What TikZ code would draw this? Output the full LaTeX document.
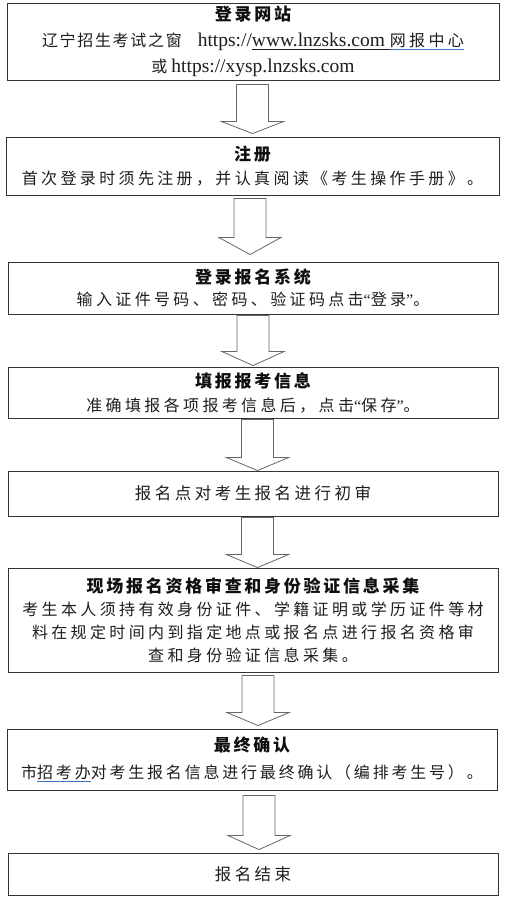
\documentclass[tikz,border=0pt]{standalone}
\usepackage{fontspec}
\setmainfont{Liberation Serif}
\newfontfamily\cjk[LetterSpace=21]{Noto Sans CJK SC}
\newfontfamily\cjkb[LetterSpace=16]{Noto Sans CJK SC}
\newfontfamily\cjks[LetterSpace=17.5]{Noto Sans CJK SC}
\newfontfamily\cjkt[LetterSpace=10.5]{Noto Sans CJK SC}
\usetikzlibrary{calc}
\definecolor{txt}{HTML}{1E1E1E}
\definecolor{ttl}{HTML}{0F0F0F}
\definecolor{ulblue}{HTML}{4472C4}
\definecolor{boxline}{HTML}{333333}
\definecolor{arrline}{HTML}{666666}
\newcommand\myul[2]{\setbox0\hbox{#2}\rlap{\color{#1}\rule[-2.8pt]{\wd0}{0.8pt}}\box0}
\newcommand\ttlx[1]{{\color{ttl}\fontsize{17}{17}\cjkb\bfseries #1}}
\newcommand\qo{{\rmfamily “}}
\newcommand\qc{{\rmfamily ”}}
\tikzset{
  stepbox/.style={draw=boxline, line width=0.9pt, rectangle, inner sep=0pt,
    align=center, text=txt, minimum width=490pt},
  arrowshape/.style={draw=arrline, line width=0.8pt, fill=white, line join=miter}
}
% from, to, x centre, top gap, bottom gap, head length
\newcommand\flowarrow[6]{%
  \path[arrowshape] let \p1=(#1.south), \p2=(#2.north) in
    ({#3pt-16pt},{\y1-#4pt}) -- ({#3pt+16pt},{\y1-#4pt})
    -- ({#3pt+16pt},{\y2+#5pt+#6pt}) -- ({#3pt+31pt},{\y2+#5pt+#6pt})
    -- ({#3pt},{\y2+#5pt}) -- ({#3pt-31pt},{\y2+#5pt+#6pt})
    -- ({#3pt-16pt},{\y2+#5pt+#6pt}) -- cycle;}
\begin{document}
\begin{tikzpicture}[x=1pt,y=-1pt]
\useasboundingbox[fill=white] (0,0) rectangle (510,897);

\node[stepbox, minimum width=492pt, minimum height=77pt,
  font=\fontsize{16}{26}\selectfont] (b1) at (253,41.5)
  {\ttlx{登录网站}\\
   {\cjkt 辽宁招生考试之窗}\hspace{16pt}{\fontsize{19.5}{26}\selectfont https://\myul{txt}{www.lnzsks.com }}\myul{ulblue}{\cjk 网报中心}\\
   {\cjk 或} {\fontsize{19.5}{26}\selectfont https://xysp.lnzsks.com}};

\node[stepbox, minimum width=493pt, minimum height=58pt,
  font=\fontsize{16}{24}\selectfont] (b2) at (252.5,166)
  {\ttlx{注册}\\
   {\cjk 首次登录时须先注册，并认真阅读《考生操作手册》。}};

\node[stepbox, minimum height=52pt,
  font=\fontsize{16}{22}\selectfont] (b3) at (253,288)
  {\ttlx{登录报名系统}\\
   {\cjk 输入证件号码、密码、验证码点击\qo 登录\qc 。}};

\node[stepbox, minimum height=51pt,
  font=\fontsize{16}{24}\selectfont] (b4) at (253,392.5)
  {\ttlx{填报报考信息}\\
   {\cjk 准确填报各项报考信息后，点击\qo 保存\qc 。}};

\node[stepbox, minimum height=45pt,
  font=\fontsize{16.5}{20}\selectfont] (b5) at (253,493.5)
  {{\cjk 报名点对考生报名进行初审}};

\node[stepbox, minimum height=104pt,
  font=\fontsize{16}{23}\selectfont] (b6) at (253,620)
  {\ttlx{现场报名资格审查和身份验证信息采集}\\
   {\cjk 考生本人须持有效身份证件、学籍证明或学历证件等材}\\
   {\cjk 料在规定时间内到指定地点或报名点进行报名资格审}\\
   {\cjk 查和身份验证信息采集。}};

\node[stepbox, minimum height=61pt,
  font=\fontsize{16}{27}\selectfont] (b7) at (252,759.5)
  {\ttlx{最终确认}\\
   {\cjks 市\myul{ulblue}{招考办}对考生报名信息进行最终确认（编排考生号）。}};

\node[stepbox, minimum height=42pt,
  font=\fontsize{16.5}{20}\selectfont] (b8) at (253,874)
  {{\cjk 报名结束}};

\flowarrow{b1}{b2}{252.5}{4}{3}{12}
\flowarrow{b2}{b3}{250}{3}{7}{17}
\flowarrow{b3}{b4}{253}{1}{1}{14}
\flowarrow{b4}{b5}{257.5}{1}{0}{13}
\flowarrow{b5}{b6}{257.5}{1}{0}{13}
\flowarrow{b6}{b7}{258}{3}{3}{13}
\flowarrow{b7}{b8}{259}{5}{3}{14}
\end{tikzpicture}
\end{document}
